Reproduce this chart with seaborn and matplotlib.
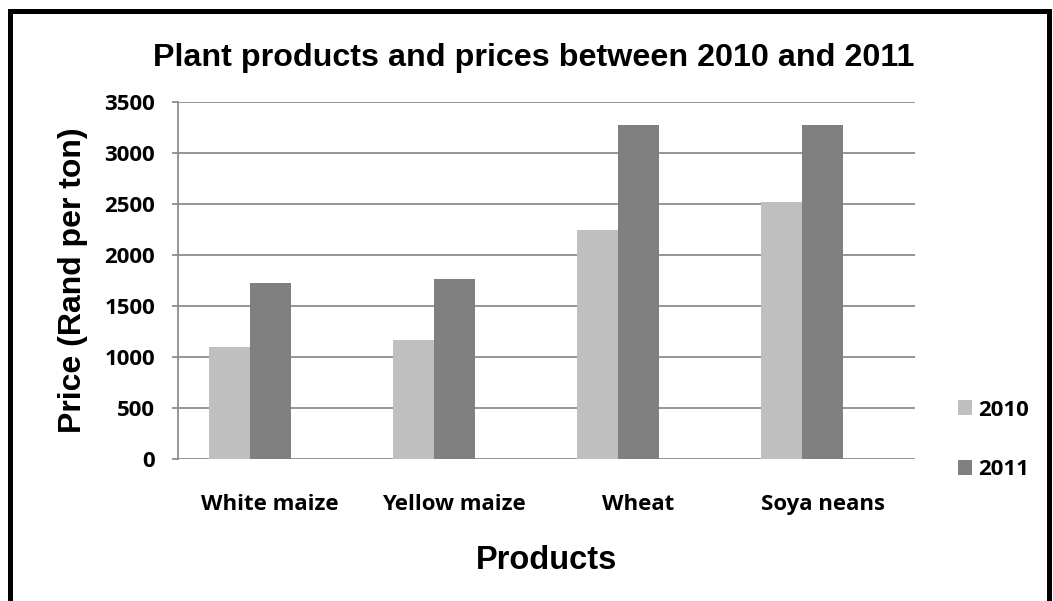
import matplotlib
matplotlib.use("Agg")
import matplotlib.pyplot as plt
import seaborn as sns
import pandas as pd
from matplotlib.patches import Patch, Rectangle

categories = ["White maize", "Yellow maize", "Wheat", "Soya neans"]
prices_2010 = [1100, 1170, 2245, 2515]
prices_2011 = [1730, 1760, 3275, 3275]
years = ["2010", "2011"]
y_ticks = [0, 500, 1000, 1500, 2000, 2500, 3000, 3500]

colors = {"2010": "#BFBFBF", "2011": "#808080", " ": "#FFFFFF"}

df = pd.DataFrame({
    "Product": categories * 2,
    "Year": ["2010"] * len(categories) + ["2011"] * len(categories),
    "Price": prices_2010 + prices_2011,
})

sns.set_theme(style="white")
plt.rcParams["font.family"] = ["Liberation Sans", "DejaVu Sans"]
plt.rcParams["text.color"] = "black"
plt.rcParams["axes.labelcolor"] = "black"
plt.rcParams["xtick.labelcolor"] = "black"
plt.rcParams["ytick.labelcolor"] = "black"

fig = plt.figure(figsize=(10.53, 6.01), dpi=100)
ax = fig.add_axes([178 / 1053, 1 - 459 / 601, (915 - 178) / 1053, (459 - 102) / 601])

sns.barplot(data=df, x="Product", y="Price", hue="Year", order=categories,
            hue_order=["2010", "2011", " "], palette=colors, width=3 / 4.5,
            gap=0, legend=False, ax=ax, saturation=1, linewidth=0)

ax.set_ylim(0, 3500)
ax.set_xlim(-0.5, len(categories) - 0.5)
ax.set_yticks(y_ticks)
ax.yaxis.grid(True, color="#8C8C8C", linewidth=1.3)
ax.set_axisbelow(True)
for s in ["top", "right", "bottom"]:
    ax.spines[s].set_visible(False)
ax.spines["left"].set_color("#8C8C8C")
ax.spines["left"].set_linewidth(1.3)
ax.tick_params(axis="y", which="major", left=True, length=4.5, width=1.3,
               color="#8C8C8C", pad=12, labelcolor="black")
ax.tick_params(axis="x", bottom=False, pad=19, labelcolor="black")

tick_font = dict(family=["Open Sans", "DejaVu Sans"], weight="bold", size=16)
ax.set_yticklabels([str(v) for v in y_ticks], fontdict=tick_font)
ax.set_xticklabels(categories, fontdict=tick_font)

ax.set_xlabel("Products", fontsize=23.5, fontweight="bold", labelpad=21.5)
ax.set_ylabel("Price (Rand per ton)", fontsize=23, fontweight="bold", labelpad=12)

fig.text(534 / 1053, 1 - 58 / 601, "Plant products and prices between 2010 and 2011",
         ha="center", va="center", fontsize=23.2, fontweight="bold")

handles = [Patch(facecolor=colors[y], edgecolor="none") for y in years]
leg = fig.legend(handles, years, loc="center left",
                 bbox_to_anchor=(938 / 1053, 1 - 440 / 601), frameon=False,
                 prop=dict(family=["Open Sans", "DejaVu Sans"], weight="bold", size=16),
                 handlelength=0.65, handleheight=0.65, handletextpad=0.25,
                 labelspacing=1.75)

fig.add_artist(Rectangle((10 / 1053, -0.05), (1049 - 10) / 1053, 1.05 - 11 / 601,
                         transform=fig.transFigure, fill=False, edgecolor="black",
                         linewidth=3.6, clip_on=False))

fig.savefig("out.png", dpi=100)
